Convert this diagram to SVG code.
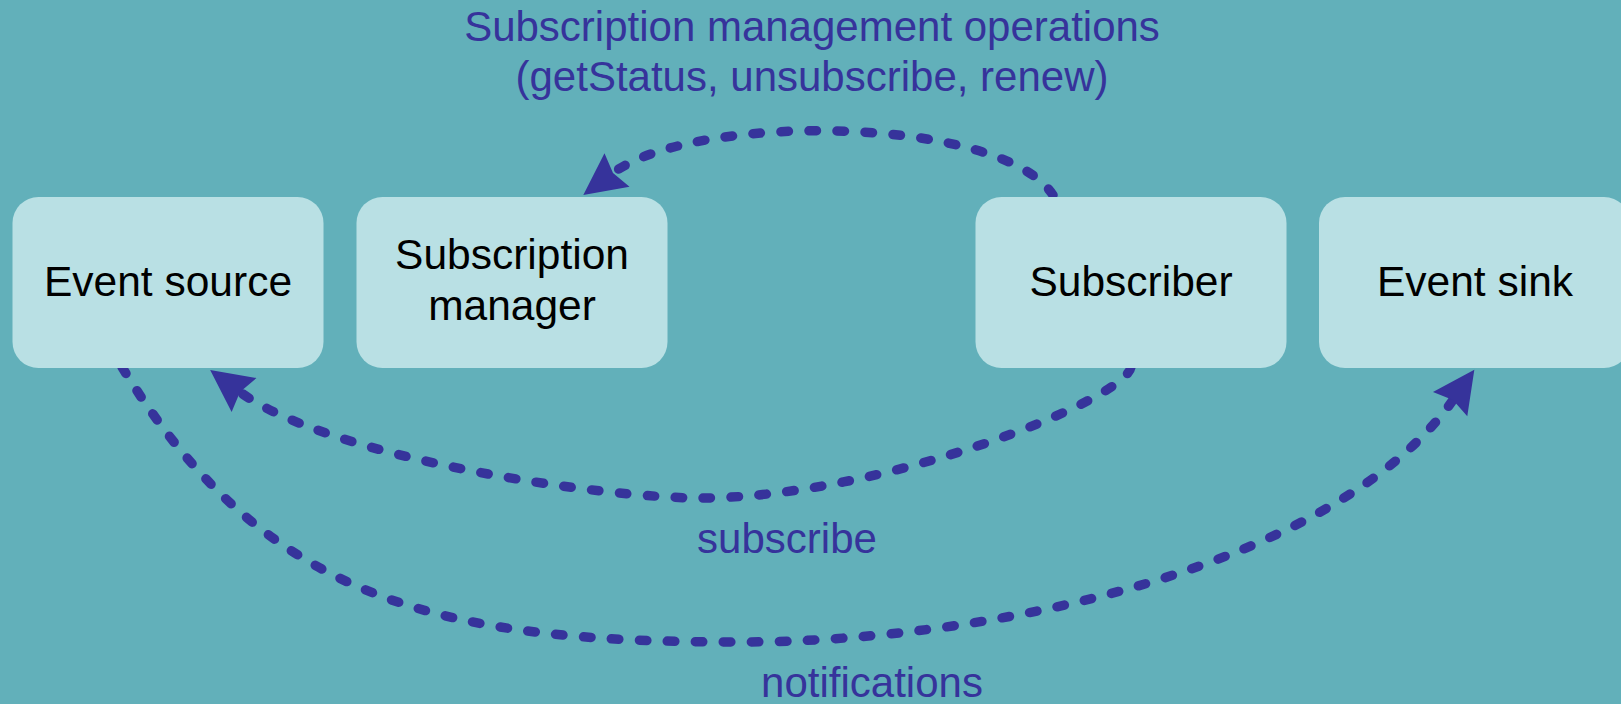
<svg xmlns="http://www.w3.org/2000/svg" width="1621" height="704" viewBox="0 0 1621 704">
  <style>
    .box { fill: #b9e0e4; }
    .lbl { font-family: "Liberation Sans", Arial, sans-serif; font-size: 42.5px; fill: #000000; text-anchor: middle; }
    .elbl { font-family: "Liberation Sans", Arial, sans-serif; font-size: 42px; fill: #36339b; text-anchor: middle; }
    .conn { fill: none; stroke: #36339b; stroke-width: 9.5; stroke-linecap: round; stroke-dasharray: 7.5 20.5; }
  </style>
  <defs>
    <marker id="arrow" markerUnits="userSpaceOnUse" markerWidth="60" markerHeight="60" refX="0" refY="0" orient="auto" overflow="visible">
      <path d="M-5,-21 L37,0 L-5,21 L0,0 Z" fill="#36339b"/>
    </marker>
  </defs>
  <rect x="0" y="0" width="1621" height="704" fill="#62b0ba"/>

  <g id="connectors">
    <path id="conn-manage" class="conn" marker-end="url(#arrow)" d="M1053,195 C1000,115 695,112 613,173"/>
    <path id="conn-subscribe" class="conn" marker-end="url(#arrow)" d="M1131,367 C1125,400 880,498 700,498 C600,498 330,458 240,392"/>
    <path id="conn-notify" class="conn" marker-end="url(#arrow)" d="M122,367 C268,607 450,642 740,642 C1000,642 1338,563 1453,400"/>
  </g>

  <g id="node-event-source">
    <rect class="box" x="12.5" y="197" width="311" height="171" rx="26" ry="26"/>
    <text class="lbl" x="168" y="296">Event source</text>
  </g>
  <g id="node-subscription-manager">
    <rect class="box" x="356.5" y="197" width="311" height="171" rx="26" ry="26"/>
    <text class="lbl" x="512" y="269">Subscription</text>
    <text class="lbl" x="512" y="320">manager</text>
  </g>
  <g id="node-subscriber">
    <rect class="box" x="975.5" y="197" width="311" height="171" rx="26" ry="26"/>
    <text class="lbl" x="1131" y="296">Subscriber</text>
  </g>
  <g id="node-event-sink">
    <rect class="box" x="1319" y="197" width="311" height="171" rx="26" ry="26"/>
    <text class="lbl" x="1475" y="296">Event sink</text>
  </g>

  <g id="labels">
    <text class="elbl" x="812" y="41">Subscription management operations</text>
    <text class="elbl" x="812" y="91">(getStatus, unsubscribe, renew)</text>
    <text class="elbl" x="787" y="553">subscribe</text>
    <text class="elbl" x="872" y="697">notifications</text>
  </g>
</svg>
